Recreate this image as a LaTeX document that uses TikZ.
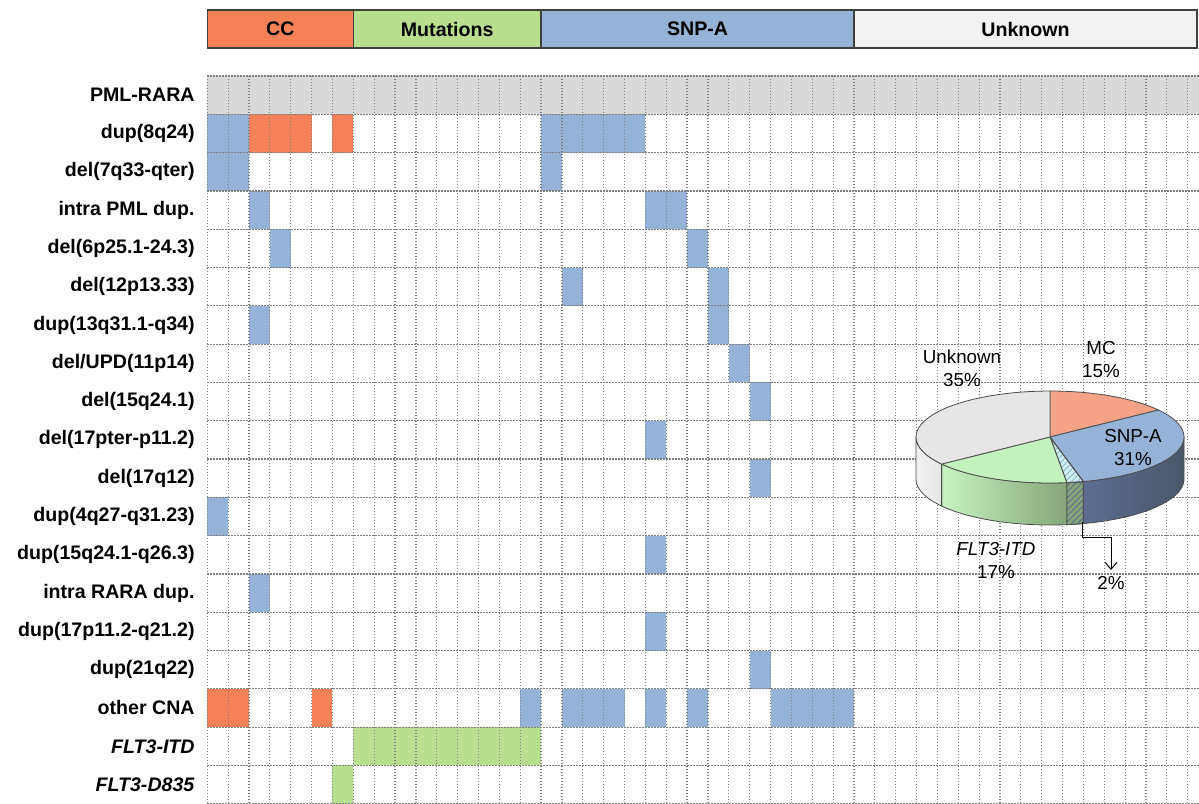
\documentclass[tikz,border=0pt]{standalone}
\usepackage{fontspec}
\setmainfont{Liberation Sans}
\usetikzlibrary{patterns,arrows.meta}

\definecolor{ccorange}{HTML}{F58159}
\definecolor{mutgreen}{HTML}{B7DF8D}
\definecolor{snpblue}{HTML}{95B3D7}
\definecolor{unkgray}{HTML}{F2F2F2}
\definecolor{rowgray}{HTML}{D9D9D9}
\definecolor{piemc}{HTML}{F5A387}
\definecolor{pieflt}{HTML}{C4F2BE}
\definecolor{pieunk}{HTML}{E6E6E6}
\definecolor{piehatch}{HTML}{CDEFEF}
\definecolor{sidenavy}{HTML}{2B3850}
\definecolor{sidesnp}{HTML}{5A6E92}
\definecolor{sideflt}{HTML}{86A67A}

% one grid cell: column, row, colour
\newcommand{\mcell}[3]{\fill[#3] ({207.3+#1*20.86},{76+#2*38.3}) rectangle ++(20.86,38.3);}

% pie geometry
\def\pcx{1050}
\def\pcy{437}
\def\prx{134}
\def\pry{46}
\def\pdep{42}
\newcommand{\pietop}[3]{\path[pieedge,#3] (\pcx,\pcy) -- plot[domain=#1:#2,samples=30] ({\pcx+\prx*cos(\x)},{\pcy-\pry*sin(\x)}) -- cycle;}
\newcommand{\pieside}[3]{\path[pieedge,#3] plot[domain=#1:#2,samples=25] ({\pcx+\prx*cos(\x)},{\pcy-\pry*sin(\x)}) -- plot[domain=#2:#1,samples=25] ({\pcx+\prx*cos(\x)},{\pcy+\pdep-\pry*sin(\x)}) -- cycle;}

\begin{document}
\begin{tikzpicture}[x=0.5pt,y=-0.5pt,
  rowlbl/.style={anchor=east,inner sep=0pt,font=\fontsize{9.8}{11}\selectfont\bfseries},
  hdrlbl/.style={font=\fontsize{9.8}{11}\selectfont\bfseries},
  hdrbox/.style={draw=black!75,line width=0.8pt},
  gridln/.style={draw=black!50,line width=0.6pt,dash pattern=on 0.6pt off 0.9pt},
  pielbl/.style={align=center,inner sep=0pt,font=\fontsize{9.4}{11.5}\selectfont},
  pieedge/.style={draw=black!70,line width=0.4pt}]
  \useasboundingbox (0,0) rectangle (1199,803);
  \clip (0,0) rectangle (1199,803);

  % header
  \foreach \a/\b/\col/\t/\nm in {0/7/ccorange/CC/hCC, 7/16/mutgreen/Mutations/hMut,
      16/31/snpblue/SNP-A/hSNP, 31/47.45/unkgray/Unknown/hUnk} {
    \draw[hdrbox,fill=\col] ({207.3+\a*20.86},10) rectangle ({207.3+\b*20.86},48);
    \node[hdrlbl] (\nm) at ({207.3+(\a+\b)*10.43},29) {\t};
  }

  % row labels
  \foreach \t [count=\r from 0] in {PML-RARA, dup(8q24), del(7q33-qter), intra PML dup.,
      del(6p25.1-24.3), del(12p13.33), dup(13q31.1-q34), {del/UPD(11p14)}, del(15q24.1),
      del(17pter-p11.2), del(17q12), dup(4q27-q31.23), dup(15q24.1-q26.3), intra RARA dup.,
      dup(17p11.2-q21.2), dup(21q22), other CNA, \textit{FLT3-ITD}, \textit{FLT3-D835}}
    \node[rowlbl] (row\r) at (195,{76+(\r+0.5)*38.3}) {\t};

  % cells
  \fill[rowgray] (207.3,76) rectangle (1199,114.3);
  \foreach \c/\r in {0/1,1/1,16/1,17/1,18/1,19/1,20/1, 0/2,1/2,16/2, 2/3,21/3,22/3,
      3/4,23/4, 17/5,24/5, 2/6,24/6, 25/7, 26/8, 21/9, 26/10, 0/11, 21/12, 2/13, 21/14,
      26/15, 15/16,17/16,18/16,19/16,21/16,23/16,27/16,28/16,29/16,30/16}
    \mcell{\c}{\r}{snpblue};
  \foreach \c/\r in {2/1,3/1,4/1,6/1, 0/16,1/16,5/16}
    \mcell{\c}{\r}{ccorange};
  \foreach \c in {7,...,15}
    \mcell{\c}{17}{mutgreen};
  \mcell{6}{18}{mutgreen}

  % dotted grid
  \foreach \c in {0,...,47}
    \draw[gridln] ({207.3+\c*20.86},76) -- ({207.3+\c*20.86},803);
  \foreach \r in {0,...,19}
    \draw[gridln] (207.3,{76+\r*38.3}) -- (1199,{76+\r*38.3});

  % pie: side walls, then top
  \pieside{-75.6}{0}{left color=sidesnp, middle color=sidenavy, right color=sidenavy!85!white}
  \pieside{-82.8}{-75.6}{fill=sideflt}
  \pieside{-82.8}{-75.6}{pattern=north east lines, pattern color=sidesnp}
  \pieside{-144}{-82.8}{left color=pieflt!95!white, right color=sideflt}
  \pieside{-180}{-144}{left color=unkgray, right color=pieunk}
  \pietop{36}{90}{fill=piemc}
  \pietop{-75.6}{36}{fill=snpblue}
  \pietop{-82.8}{-75.6}{fill=piehatch}
  \pietop{-82.8}{-75.6}{pattern=north east lines, pattern color=snpblue}
  \pietop{-144}{-82.8}{fill=pieflt}
  \pietop{90}{216}{fill=pieunk}

  % pie labels
  \node[pielbl] (pMC) at (1101,360) {MC\\15\%};
  \node[pielbl] (pUnk) at (962,368) {Unknown\\35\%};
  \node[pielbl] (pSNP) at (1133,448) {SNP-A\\31\%};
  \node[pielbl] (pFLT) at (996,560) {\textit{FLT3-ITD}\\17\%};
  \node[pielbl] (pTwo) at (1111,583) {2\%};
  \coordinate (hatchFoot) at (1082,522);
  \draw[line width=0.5pt,-{Straight Barb[length=3.5pt,width=6pt]}]
    (hatchFoot) -- ++(0,15) -| ([yshift=3pt]pTwo.north);
\end{tikzpicture}
\end{document}
